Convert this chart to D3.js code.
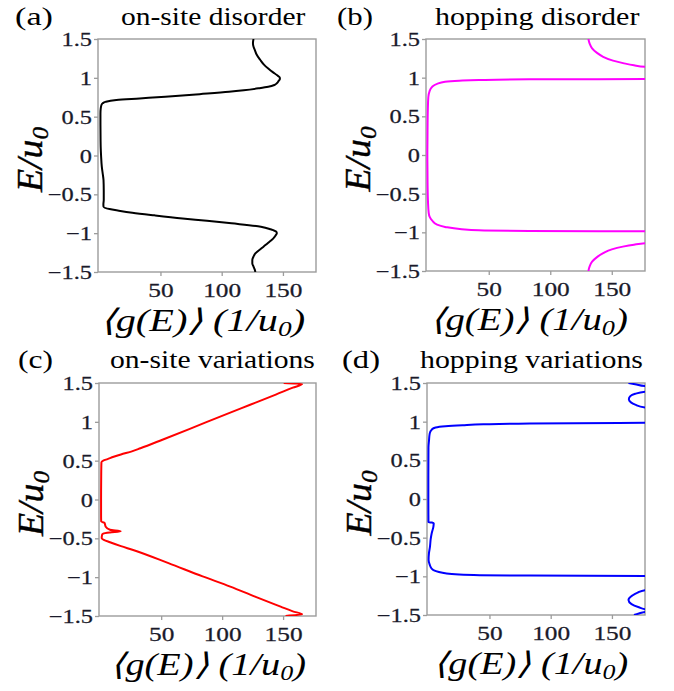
<!DOCTYPE html>
<html><head><meta charset="utf-8">
<script src="https://cdn.jsdelivr.net/npm/d3@7"></script>
<style>body{margin:0;background:#fff}svg{display:block}</style>
</head><body><svg id="c" width="674" height="691"></svg>
<script>
// ---------- data ----------
const yTicks = [-1.5, -1, -0.5, 0, 0.5, 1, 1.5];
const yTickLabels = ["\u22121.5", "\u22121", "\u22120.5", "0", "0.5", "1", "1.5"];
const xTicks = [50, 100, 150];
const xDomain = [-1, 177];
const yDomain = [-1.5, 1.5];
const panelLetters = ["(a)", "(b)", "(c)", "(d)"];
const panelTitles = ["on-site disorder", "hopping disorder", "on-site variations", "hopping variations"];
const seriesColors = ["#000000", "#ff00ff", "#ff0000", "#0000ff"];

// (a) on-site disorder
const E_a = [1.5,1.45,1.4,1.36,1.3,1.23,1.17,1.12,1.07,1.036,1.0,0.985,0.96,0.93,0.908,0.885,0.865,0.84,0.82,0.79,0.757,0.735,0.715,0.69,0.672,0.65,0.6,0.54,0.4,0.2,0.11,0.0,-0.144,-0.25,-0.315,-0.45,-0.573,-0.63,-0.66,-0.69,-0.71,-0.736,-0.77,-0.81,-0.84,-0.873,-0.917,-0.95,-0.98,-1.0,-1.03,-1.07,-1.11,-1.15,-1.195,-1.26,-1.3,-1.345,-1.39,-1.43,-1.47,-1.5];
const g_a = [126,125.5,126,127,128.5,131.5,134.5,138,142,145,147.5,147.5,146.5,145,143,138,130,118,106,82,54,33,14,5,2.8,1.8,1.2,1.0,1.0,1.1,1.2,1.5,2.1,3.0,3.5,3.7,3.7,3.4,3.5,8.4,16,27,45,68,88,108,132,140,144.5,145,144,142,139,136,132.5,127.5,126,125,125,126,127,127.5];

// (b) hopping disorder
const E_b = [1.5,1.44,1.38,1.32,1.27,1.22,1.185,1.16,1.14,1.1,1.05,1.0,0.99,0.982,0.978,0.969,0.96,0.947,0.92,0.88,0.82,0.75,0.6,0.4,0.2,0,-0.2,-0.4,-0.6,-0.75,-0.8,-0.845,-0.9,-0.93,-0.96,-0.974,-0.982,-0.987,-0.995,-1.0,-1.05,-1.1,-1.14,-1.16,-1.185,-1.22,-1.27,-1.32,-1.38,-1.44,-1.5];
const g_b = [131,132,134,138,143,151,160,168,177,230,300,350,300,180,83,42,26,14.5,8,3.9,1.8,0.9,0.5,0.3,0.2,0.1,0.2,0.3,0.6,1.2,2,3.9,8,14.5,28,42,83,180,300,350,300,230,178,168,159,150,143,138,134,132,131];

// (c) on-site variations
const E_c = [1.5,1.487,1.44,1.35,1.22,1.09,0.907,0.77,0.66,0.62,0.58,0.55,0.52,0.5,0.48,0.3,0,-0.2,-0.284,-0.3,-0.35,-0.39,-0.41,-0.425,-0.44,-0.455,-0.5,-0.52,-0.55,-0.6,-0.65,-0.82,-0.99,-1.121,-1.25,-1.379,-1.44,-1.477,-1.5];
const g_c = [150.5,165.6,158,144,123,102,73,51,33,26,17,11,6,2.5,1,0.8,0.7,0.7,0.8,3.5,4.5,8,16.8,8,2.5,1.5,1.2,3,8,17,27,56,84,106.7,127,148,158,165.6,152];

// (d) hopping variations
const E_d = [1.5,1.48,1.46,1.44,1.41,1.39,1.36,1.33,1.29,1.25,1.22,1.18,1.15,1.05,1.0,0.99,0.985,0.977,0.965,0.953,0.94,0.924,0.9,0.846,0.75,0.67,0.3,0,-0.3,-0.305,-0.315,-0.36,-0.446,-0.52,-0.62,-0.7,-0.79,-0.85,-0.9,-0.92,-0.963,-0.985,-0.99,-0.995,-1.0,-1.1,-1.177,-1.21,-1.25,-1.307,-1.36,-1.4,-1.427,-1.44,-1.45,-1.458,-1.48,-1.5];
const g_d = [163.5,170,177,200,200,178,169,165,163.8,165.5,169,178,210,300,350,250,178,83,45,28,14,6,3,1.2,0.6,0.2,0.1,0.1,0.2,3,4.5,4.2,2.8,2,1.4,0.6,0.3,1.2,2.8,4.2,15,42,83,178,350,250,178,171,166.5,163.5,166,172,178,200,190,178,172,168];

const seriesE = [E_a, E_b, E_c, E_d];
const seriesG = [g_a, g_b, g_c, g_d];

// ---------- layout ----------
const layout = [
  {left:98,  top:39,  w:218, h:233, letterX:15,  letterW:38, titleX:121, titleW:185, baseY:25,  xlab:[100,205]},
  {left:426, top:39,  w:219, h:232, letterX:337, letterW:36, titleX:435, titleW:205, baseY:25,  xlab:[430,197]},
  {left:99,  top:383, w:217, h:233, letterX:18,  letterW:35, titleX:110, titleW:205, baseY:368, xlab:[110,195]},
  {left:427, top:383, w:218, h:232, letterX:342, letterW:38, titleX:420, titleW:223, baseY:368, xlab:[433,194]}
];

const FONT = "'Liberation Serif','Times New Roman',serif";
const TICK_COLOR = "#1a1a2a";
const FRAME = "#9c9c9c";
const SX = 1.25;

const svg = d3.select("#c");

function fitText(parent, x, y, build, targetW, anchor) {
  const g = parent.append("g").attr("transform", `translate(${x},${y})`);
  const t = g.append("text").attr("text-anchor", anchor || "start").attr("fill", "#000");
  build(t);
  const w = t.node().getBBox().width;
  const sx = targetW / w;
  g.attr("transform", `translate(${x},${y}) scale(${sx},1)`);
  return g;
}

layout.forEach((L, i) => {
  const p = svg.append("g");
  const xs = d3.scaleLinear().domain(xDomain).range([L.left, L.left + L.w]);
  const ys = d3.scaleLinear().domain(yDomain).range([L.top + L.h, L.top]);

  const cid = "clip" + i;
  svg.append("defs").append("clipPath").attr("id", cid)
    .append("rect").attr("x", L.left).attr("y", L.top).attr("width", L.w).attr("height", L.h);

  const ya = p.append("g").attr("transform", `translate(${L.left},0)`)
    .call(d3.axisLeft(ys).tickValues(yTicks).tickSize(4).tickSizeOuter(0)
      .tickFormat((d, k) => yTickLabels[k]));
  const xa = p.append("g").attr("transform", `translate(0,${L.top + L.h})`)
    .call(d3.axisBottom(xs).tickValues(xTicks).tickSize(4).tickSizeOuter(0));
  [ya, xa].forEach(a => {
    a.select(".domain").remove();
    a.selectAll(".tick line").attr("stroke", FRAME).attr("stroke-width", 1.3);
    a.selectAll(".tick text").attr("fill", TICK_COLOR)
      .attr("stroke", TICK_COLOR).attr("stroke-width", 0.25)
      .style("font-family", FONT).style("font-size", "19.5px");
  });
  ya.selectAll(".tick text").attr("x", -6 / SX).attr("dy", "0.34em")
    .attr("transform", `scale(${SX},1)`);
  xa.selectAll(".tick text").attr("y", 0).attr("dy", 0)
    .attr("transform", `translate(0,25) scale(${SX + 0.05},1)`);

  p.append("rect").attr("x", L.left).attr("y", L.top).attr("width", L.w).attr("height", L.h)
    .attr("fill", "none").attr("stroke", FRAME).attr("stroke-width", 1.4);

  const pts = seriesE[i].map((e, k) => ({E: e, g: seriesG[i][k]}));
  p.append("path").datum(pts)
    .attr("clip-path", `url(#${cid})`)
    .attr("fill", "none").attr("stroke", seriesColors[i]).attr("stroke-width", 2)
    .attr("stroke-linejoin", "round")
    .attr("d", d3.line().curve(d3.curveMonotoneY).x(d => xs(d.g)).y(d => ys(d.E)));

  fitText(p, L.letterX, L.baseY, t => t.style("font-family", FONT).style("font-size", "25px").text(panelLetters[i]), L.letterW);
  fitText(p, L.titleX, L.baseY, t => t.style("font-family", FONT).style("font-size", "25.5px").text(panelTitles[i]), L.titleW);

  fitText(p, L.xlab[0], L.top + L.h + 59, t => {
    t.style("font-family", FONT).style("font-size", "31px").style("font-style", "italic");
    t.append("tspan").text("\u27E8g(E)\u27E9 (1/u");
    t.append("tspan").attr("font-size", "21px").attr("dy", 5).text("0");
    t.append("tspan").attr("dy", -5).text(")");
  }, L.xlab[1]);

  const gy = p.append("g");
  const cx = L.left - 56, cy = L.top + L.h / 2 + 4;
  const ty = gy.append("text").attr("text-anchor", "middle").attr("fill", "#000")
    .attr("stroke", "#000").attr("stroke-width", 0.4)
    .style("font-family", FONT).style("font-size", "36px").style("font-style", "italic");
  ty.append("tspan").text("E/u");
  ty.append("tspan").attr("font-size", "24px").attr("dy", 6).text("0");
  const lw = ty.node().getBBox().width;
  gy.attr("transform", `translate(${cx},${cy}) rotate(-90) scale(${66 / lw},1)`);
});
</script>
</body></html>
